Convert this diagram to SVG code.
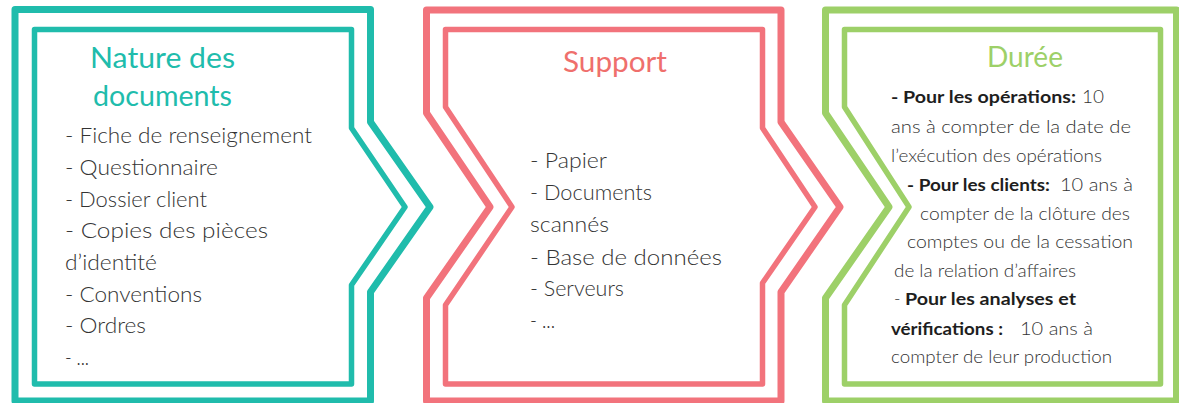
<svg xmlns="http://www.w3.org/2000/svg" width="1179" height="403" viewBox="0 0 1179 403">
<style>
.sh{fill:none;stroke-linejoin:round}
.o{stroke-width:7}
.i{stroke-width:5.5}
.teal{stroke:#20bcac}
.red{stroke:#f2737c}
.green{stroke:#9dd068}
.title{font-family:Lato,"Liberation Sans",sans-serif;font-size:28px;font-weight:400;text-anchor:middle}
.t{font-family:Lato,"Liberation Sans",sans-serif;font-size:21px;font-weight:300;fill:#333}
.d{font-family:Lato,"Liberation Sans",sans-serif;font-size:17.5px;font-weight:300;fill:#333}
.b{font-family:Lato,"Liberation Sans",sans-serif;font-size:17.5px;font-weight:700;fill:#1e1e1e}
</style>
<rect width="1179" height="403" fill="#fff"/>
<g id="nature">
<path class="sh o teal" d="M15,9.5 H370.5 V122 L430,207 L370.5,292 V401 H15 Z"/>
<path class="sh i teal" d="M34.5,29.5 H351.5 V128 L405,207 L351.5,285 V384 H34.5 Z"/>
<text class="title" x="162.5" y="68" fill="#20bcac" textLength="145" lengthAdjust="spacingAndGlyphs">Nature des</text>
<text class="title" x="162.5" y="106" fill="#20bcac" textLength="139" lengthAdjust="spacingAndGlyphs">documents</text>
<text class="t" x="65" y="143" textLength="247" lengthAdjust="spacingAndGlyphs">- Fiche de renseignement</text>
<text class="t" x="65" y="175" textLength="153" lengthAdjust="spacingAndGlyphs">- Questionnaire</text>
<text class="t" x="65" y="207" textLength="142" lengthAdjust="spacingAndGlyphs">- Dossier client</text>
<text class="t" x="65" y="238" textLength="203" lengthAdjust="spacingAndGlyphs">- Copies des pièces</text>
<text class="t" x="65" y="270" textLength="92" lengthAdjust="spacingAndGlyphs">d’identité</text>
<text class="t" x="65" y="302" textLength="137" lengthAdjust="spacingAndGlyphs">- Conventions</text>
<text class="t" x="65" y="333" textLength="81" lengthAdjust="spacingAndGlyphs">- Ordres</text>
<text class="t" x="65" y="365" textLength="24" lengthAdjust="spacingAndGlyphs">- ...</text>
</g>
<g id="support">
<path class="sh o red" d="M426.5,10 H781 V122 L840,207 L781,292 V401 H426.5 V298 L490,207 L426.5,113 Z"/>
<path class="sh i red" d="M445.5,29.5 H762.5 V128 L815,207 L762.5,283 V384 H445.5 V305 L512,207 L445.5,107 Z"/>
<text class="title" x="615" y="72" fill="#ef6f6c" textLength="104" lengthAdjust="spacingAndGlyphs">Support</text>
<text class="t" x="530" y="168" textLength="77" lengthAdjust="spacingAndGlyphs">- Papier</text>
<text class="t" x="530" y="200" textLength="122" lengthAdjust="spacingAndGlyphs">- Documents</text>
<text class="t" x="530" y="232" textLength="79" lengthAdjust="spacingAndGlyphs">scannés</text>
<text class="t" x="530" y="265" textLength="192" lengthAdjust="spacingAndGlyphs">- Base de données</text>
<text class="t" x="530" y="296" textLength="94" lengthAdjust="spacingAndGlyphs">- Serveurs</text>
<text class="t" x="530" y="328" textLength="25" lengthAdjust="spacingAndGlyphs">- ...</text>
</g>
<g id="duree">
<path class="sh o green" d="M825.5,10 H1176.5 V401 H825.5 V298 L889,207 L825.5,113 Z"/>
<path class="sh i green" d="M844.5,29.5 H1160.5 V384 H844.5 V305 L909,207 L844.5,107 Z"/>
<text class="title" x="1025" y="67" fill="#9dd068" textLength="76" lengthAdjust="spacingAndGlyphs">Durée</text>
<text class="b" x="891" y="103" textLength="185" lengthAdjust="spacingAndGlyphs">- Pour les opérations:</text>
<text class="d" x="1082" y="103" textLength="22" lengthAdjust="spacingAndGlyphs">10</text>
<text class="d" x="891" y="133" textLength="240" lengthAdjust="spacingAndGlyphs">ans à compter de la date de</text>
<text class="d" x="891" y="162" textLength="211" lengthAdjust="spacingAndGlyphs">l’exécution des opérations</text>
<text class="b" x="907" y="191" textLength="143" lengthAdjust="spacingAndGlyphs">- Pour les clients:</text>
<text class="d" x="1060" y="191" textLength="73" lengthAdjust="spacingAndGlyphs">10 ans à</text>
<text class="d" x="920" y="220" textLength="210" lengthAdjust="spacingAndGlyphs">compter de la clôture des</text>
<text class="d" x="907" y="248" textLength="226" lengthAdjust="spacingAndGlyphs">comptes ou de la cessation</text>
<text class="d" x="894" y="277" textLength="182" lengthAdjust="spacingAndGlyphs">de la relation d’affaires</text>
<text class="d" x="894" y="305">-</text>
<text class="b" x="905" y="305" textLength="171" lengthAdjust="spacingAndGlyphs">Pour les analyses et</text>
<text class="b" x="891" y="335" textLength="112" lengthAdjust="spacingAndGlyphs">vérifications :</text>
<text class="d" x="1020" y="335" textLength="73" lengthAdjust="spacingAndGlyphs">10 ans à</text>
<text class="d" x="891" y="363" textLength="221" lengthAdjust="spacingAndGlyphs">compter de leur production</text>
</g>
</svg>
